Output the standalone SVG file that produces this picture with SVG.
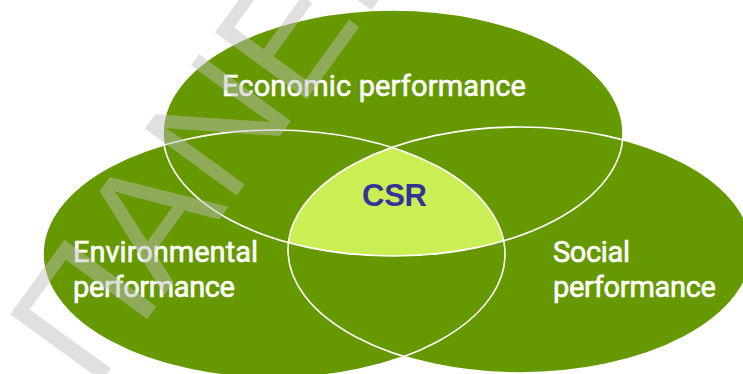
<svg xmlns="http://www.w3.org/2000/svg" xmlns:xlink="http://www.w3.org/1999/xlink" width="743" height="374" viewBox="0 0 743 374">
  <defs>
    <style>
      .fill { fill: #669900; }
      .ring { fill: none; stroke: #ffffff; stroke-width: 1.6; }
      .lbl { font-family: Roboto, "Liberation Sans", Arial, sans-serif; font-size: 29px; fill: #ffffff; stroke: #ffffff; stroke-width: 0.6; }
      .csr { font-family: "Liberation Sans", Arial, sans-serif; font-size: 31px; font-weight: bold; fill: #333399; }
      .wm { font-family: "Liberation Sans", Arial, sans-serif; font-size: 165px; fill: #bdbdbd; fill-opacity: 0.47; }
    </style>
    <ellipse id="e-eco" cx="393" cy="133" rx="230" ry="123"/>
    <ellipse id="e-env" cx="274" cy="254" rx="231" ry="124"/>
    <ellipse id="e-soc" cx="520" cy="250" rx="232" ry="123"/>
    <clipPath id="clip-env"><use xlink:href="#e-env"/></clipPath>
    <clipPath id="clip-soc"><use xlink:href="#e-soc"/></clipPath>
  </defs>

  <rect width="743" height="374" fill="#ffffff"/>

  <g id="node-environmental"><use xlink:href="#e-env" class="fill"/></g>
  <g id="node-social"><use xlink:href="#e-soc" class="fill"/></g>
  <g id="node-economic"><use xlink:href="#e-eco" class="fill"/></g>

  <g id="node-csr">
    <g clip-path="url(#clip-soc)">
      <g clip-path="url(#clip-env)">
        <use xlink:href="#e-eco" fill="#ccee55"/>
      </g>
    </g>
  </g>

  <g id="connectors">
    <use xlink:href="#e-eco" class="ring"/>
    <use xlink:href="#e-env" class="ring"/>
    <use xlink:href="#e-soc" class="ring"/>
  </g>

  <g id="labels">
    <text class="lbl" x="222" y="96" textLength="304" lengthAdjust="spacing">Economic performance</text>
    <text class="lbl" x="73" y="262" textLength="185" lengthAdjust="spacing">Environmental</text>
    <text class="lbl" x="73" y="297" textLength="162" lengthAdjust="spacing">performance</text>
    <text class="lbl" x="553" y="262" textLength="77" lengthAdjust="spacing">Social</text>
    <text class="lbl" x="553" y="297" textLength="163" lengthAdjust="spacing">performance</text>
    <text class="csr" x="362" y="206" textLength="65" lengthAdjust="spacing">CSR</text>
  </g>

  <g id="watermark">
    <text class="wm" transform="translate(94,392) rotate(-54)" x="0" y="0">ΠΑΝΕΠ</text>
  </g>
</svg>
